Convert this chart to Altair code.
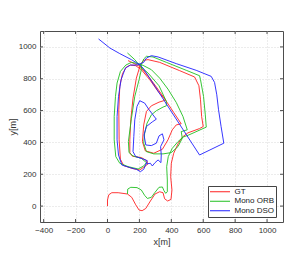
import altair as alt
import pandas as pd

# Trajectories (x[m], y[m])
GT = [(0, 0), (0, 38), (8, 71), (27, 84), (67, 84), (125, 76), (152, 55), (177, 8), (198, -25),
      (217, -29), (240, -15), (269, 32), (298, 76), (327, 90), (348, 84), (358, 46), (377, 32),
      (398, 42), (404, 101), (396, 185), (400, 269), (415, 332), (442, 391), (469, 433),
      (504, 460), (577, 487), (600, 500), (590, 563), (583, 668), (573, 756), (546, 811),
      (452, 851), (327, 903), (254, 920), (227, 916), (206, 888), (181, 804), (160, 678),
      (146, 542), (140, 416), (140, 336), (156, 313), (212, 305), (244, 286), (254, 265),
      (227, 244), (202, 227), (160, 235), (102, 254), (81, 294), (73, 416), (71, 605),
      (77, 752), (94, 832), (119, 874), (144, 886), (177, 882), (212, 857), (265, 794),
      (317, 720), (365, 664), (415, 588), (462, 517), (431, 510), (406, 479), (379, 416),
      (344, 357), (290, 332), (237, 347), (219, 405), (227, 510), (244, 594), (275, 630),
      (323, 653), (365, 666), (306, 748), (254, 819), (202, 878), (160, 899), (129, 914)]

ORB = [(125, 76), (127, 107), (146, 118), (185, 116), (212, 101), (233, 67), (250, 48), (275, 55),
       (296, 84), (323, 118), (344, 120), (354, 97), (365, 80), (375, 90), (375, 164), (371, 248),
       (381, 311), (406, 363), (442, 405), (473, 433), (510, 447),
       (619, 496), (613, 573), (602, 689), (583, 794), (577, 819), (494, 853), (369, 903),
       (285, 937), (244, 941), (227, 924), (212, 888),
       (212, 857), (198, 794), (171, 689), (150, 552), (131, 405), (135, 336), (160, 315),
       (212, 300), (244, 273),
       (227, 252), (192, 233), (129, 248), (77, 269), (52, 311), (42, 416), (42, 563), (50, 689),
       (60, 773), (81, 846), (115, 886), (150, 903), (192, 895),
       (223, 884), (275, 857), (327, 804), (379, 735), (431, 651), (473, 563), (500, 479),
       (462, 468), (469, 426), (442, 374), (400, 336), (348, 328), (290, 328), (244, 342),
       (227, 395), (233, 458), (248, 521), (275, 573), (306, 599), (348, 622), (369, 630),
       (369, 657), (323, 756), (254, 836), (206, 878), (171, 920), (125, 962)]

DSO = [(244, 265), (269, 269), (281, 252), (298, 273), (317, 290), (335, 273), (337, 321),
       (333, 374), (354, 416), (344, 454), (323, 441), (306, 395), (275, 380), (240, 384),
       (229, 447), (244, 500), (281, 529), (306, 546), (285, 573), (258, 609), (233, 647),
       (202, 662), (185, 626), (171, 542), (165, 437), (160, 342), (177, 311), (223, 296),
       (250, 285), (227, 231), (206, 216), (181, 231), (140, 242), (90, 258), (69, 321),
       (60, 416), (60, 563), (69, 689), (85, 794), (112, 867), (144, 886), (185, 886),
       (227, 903), (244, 930), (275, 945), (317, 937), (431, 895), (556, 853), (650, 815),
       (671, 777), (685, 699), (696, 605), (712, 500), (729, 395), (577, 321), (223, 867),
       (202, 888), (150, 920), (77, 958), (15, 993), (-56, 1050)]

SERIES = ["GT", "Mono ORB", "Mono DSO"]
COLORS = ["#ff2020", "#20c020", "#2020ff"]
X_TICKS = [-400, -200, 0, 200, 400, 600, 800, 1000]
Y_TICKS = [0, 200, 400, 600, 800, 1000]
X_DOMAIN = [-423, 1100]
Y_DOMAIN = [-100, 1100]

W, H = 243, 191


def frame(name, pts):
    return pd.DataFrame({"x": [p[0] for p in pts], "y": [p[1] for p in pts],
                         "series": name, "idx": list(range(len(pts)))})


xs = alt.Scale(domain=X_DOMAIN, nice=False, zero=False)
ys = alt.Scale(domain=Y_DOMAIN, nice=False, zero=False)
cs = alt.Scale(domain=SERIES, range=COLORS)

xaxis = alt.Axis(values=X_TICKS, title="x[m]", ticks=False, domain=False, labelPadding=4,
                 titlePadding=3, format="d", labelOverlap=False, labelFlush=False)
yaxis = alt.Axis(values=Y_TICKS, title="y[m]", ticks=False, domain=False, labelPadding=4,
                 titlePadding=1, format="d", labelOverlap=False, labelFlush=False)

legend = alt.Legend(title=None, orient="none", legendX=168, legendY=155, symbolType="stroke",
                    symbolSize=400, symbolStrokeWidth=1, labelFontSize=8, clipHeight=8.5,
                    rowPadding=0.5, padding=1.5, strokeColor="#444444", fillColor="white",
                    labelOffset=4, labelColor="#222222", labelFont="Liberation Sans")


def line(name, pts):
    return alt.Chart(frame(name, pts)).mark_line(strokeWidth=0.9, clip=True).encode(
        x=alt.X("x:Q", scale=xs, axis=xaxis),
        y=alt.Y("y:Q", scale=ys, axis=yaxis),
        color=alt.Color("series:N", scale=cs, legend=legend),
        order="idx:Q",
    )


xt = pd.DataFrame({"x": X_TICKS})
yt = pd.DataFrame({"y": Y_TICKS})
tc = "#4d4d4d"
ticks = [
    alt.Chart(xt).mark_rule(color=tc, strokeWidth=1).encode(
        x=alt.X("x:Q", scale=xs, axis=xaxis), y=alt.value(H), y2=alt.value(H - 3)),
    alt.Chart(xt).mark_rule(color=tc, strokeWidth=1).encode(
        x=alt.X("x:Q", scale=xs, axis=xaxis), y=alt.value(0), y2=alt.value(3)),
    alt.Chart(yt).mark_rule(color=tc, strokeWidth=1).encode(
        y=alt.Y("y:Q", scale=ys, axis=yaxis), x=alt.value(0), x2=alt.value(3)),
    alt.Chart(yt).mark_rule(color=tc, strokeWidth=1).encode(
        y=alt.Y("y:Q", scale=ys, axis=yaxis), x=alt.value(W), x2=alt.value(W - 3)),
]

chart = alt.layer(
    line("GT", GT), line("Mono ORB", ORB), line("Mono DSO", DSO), *ticks
).properties(
    width=W, height=H,
    autosize=alt.AutoSizeParams(type="none"),
    padding={"left": 32, "top": 23, "right": 14, "bottom": 40},
).configure_view(
    stroke="#4d4d4d", strokeWidth=1
).configure_axis(
    grid=True, gridColor="#d8d8d8", gridDash=[1, 2], gridOpacity=1, labelOverlap=False,
    labelFontSize=8, titleFontSize=9, labelColor="#333333", titleColor="#333333",
    titleFontWeight="normal", labelFont="Liberation Sans", titleFont="Liberation Sans",
)

chart.save("out.html", embed_options={"renderer": "svg", "actions": False})
